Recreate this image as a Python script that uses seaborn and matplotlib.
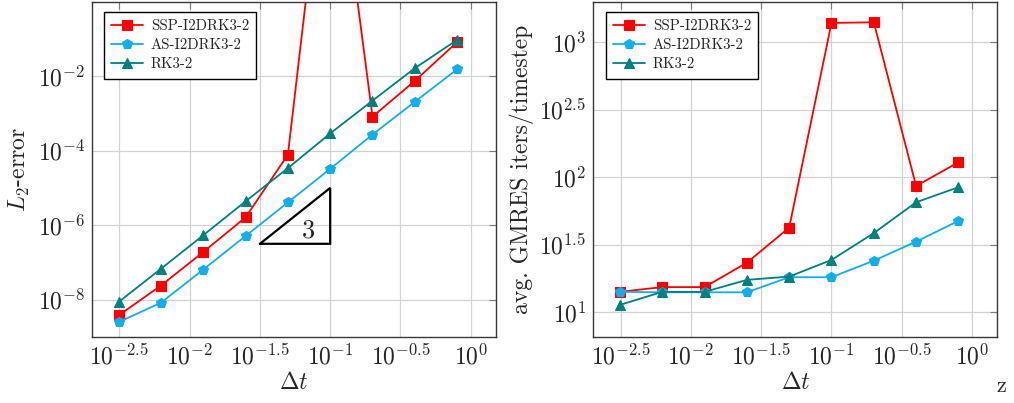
import numpy as np
import pandas as pd
import matplotlib
matplotlib.use("Agg")
import matplotlib.pyplot as plt
import seaborn as sns

# ---------------- data ----------------
dt = [0.003125, 0.00625, 0.0125, 0.025, 0.05, 0.1, 0.2, 0.4, 0.8]
series_names = ["SSP-I2DRK3-2", "AS-I2DRK3-2", "RK3-2"]

err_ssp = [10**-8.42, 10**-7.62, 10**-6.72, 10**-5.79, 10**-4.11, 10**5.63, 10**-3.09, 10**-2.13, 10**-1.09]
err_as = [10**-8.60, 10**-8.08, 10**-7.19, 10**-6.29, 10**-5.39, 10**-4.49, 10**-3.57, 10**-2.69, 10**-1.82]
err_rk = [10**-8.06, 10**-7.17, 10**-6.27, 10**-5.36, 10**-4.47, 10**-3.54, 10**-2.66, 10**-1.79, 10**-1.03]

gm_ssp = [14.1, 15.3, 15.3, 23.2, 42.2, 1384, 1400, 85.8, 128.5]
gm_as = [14.1, 14.0, 14.0, 14.0, 18.1, 18.1, 24.0, 33.2, 47.3]
gm_rk = [11.3, 14.1, 14.1, 17.3, 18.3, 24.3, 38.4, 65.0, 84.0]

xtick_vals = [10**-2.5, 10**-2, 10**-1.5, 10**-1, 10**-0.5, 10**0]
xtick_labels = [r"$10^{-2.5}$", r"$10^{-2}$", r"$10^{-1.5}$", r"$10^{-1}$", r"$10^{-0.5}$", r"$10^{0}$"]
ytick_vals_l = [1e-8, 1e-6, 1e-4, 1e-2]
ytick_labels_l = [r"$10^{-8}$", r"$10^{-6}$", r"$10^{-4}$", r"$10^{-2}$"]
ytick_vals_r = [10**1, 10**1.5, 10**2, 10**2.5, 10**3]
ytick_labels_r = [r"$10^{1}$", r"$10^{1.5}$", r"$10^{2}$", r"$10^{2.5}$", r"$10^{3}$"]

slope_tri_x = [10**-1.5, 10**-1, 10**-1, 10**-1.5]
slope_tri_y = [10**-6.5, 10**-5.0, 10**-6.5, 10**-6.5]
slope_label = "3"

# ---------------- style ----------------
sns.set_theme(style="white")
plt.rcParams["font.family"] = ["cmr10", "DejaVu Serif"]
plt.rcParams["mathtext.fontset"] = "cm"
plt.rcParams["axes.unicode_minus"] = False
plt.rcParams["axes.formatter.use_mathtext"] = True

colors = ["#ff0000", "#12aeeb", "#008080"]
markers = ["s", "p", "^"]
msizes = [7.5, 7.5, 7.5]

fig = plt.figure(figsize=(10.14, 4.03), dpi=100)
W, H = 1014, 403
bottom = 1 - 337 / H
height = 335.5 / H
ax1 = fig.add_axes([92 / W, bottom, 404 / W, height])
ax2 = fig.add_axes([593.3 / W, bottom, 404 / W, height])

def style_axes(ax):
    ax.set_xscale("log")
    ax.set_yscale("log")
    ax.grid(True, which="major", color="#d2d2d2", linewidth=0.9)
    ax.set_axisbelow(True)
    for s in ax.spines.values():
        s.set_color("#383838")
        s.set_linewidth(1.0)
    ax.tick_params(which="major", direction="in", length=5, width=0.8, color="#7a7a7a",
                   top=True, right=True, labelsize=17, pad=5)
    ax.xaxis.set_minor_locator(matplotlib.ticker.NullLocator())
    ax.yaxis.set_minor_locator(matplotlib.ticker.NullLocator())

def draw(ax, ys):
    for name, y, c, m, ms in zip(series_names, ys, colors, markers, msizes):
        df = pd.DataFrame({"dt": dt, "val": y})
        sns.lineplot(data=df, x="dt", y="val", ax=ax, color=c, marker=m, markersize=ms,
                     markeredgecolor=c, markerfacecolor=c, markeredgewidth=0.8,
                     linewidth=1.3, label=name, sort=True)

for ax in (ax1, ax2):
    style_axes(ax)

draw(ax1, [err_ssp, err_as, err_rk])
draw(ax2, [gm_ssp, gm_as, gm_rk])

for ax in (ax1, ax2):
    ax.set_xlim(10**-2.695, 10**0.18)
    ax.set_xticks(xtick_vals)
    ax.set_xticklabels(xtick_labels)
    ax.xaxis.set_minor_locator(matplotlib.ticker.NullLocator())
    ax.set_xlabel(r"$\Delta t$", fontsize=17, labelpad=2)

ax1.set_ylim(1e-9, 1e0)
ax1.set_yticks(ytick_vals_l)
ax1.set_yticklabels(ytick_labels_l)
ax1.yaxis.set_minor_locator(matplotlib.ticker.NullLocator())
ax1.set_ylabel(r"$L_2$-error", fontsize=17, labelpad=4)

ax2.set_ylim(10**0.815, 10**3.30)
ax2.set_yticks(ytick_vals_r)
ax2.set_yticklabels(ytick_labels_r)
ax2.yaxis.set_minor_locator(matplotlib.ticker.NullLocator())
ax2.set_ylabel("avg. GMRES iters/timestep", fontsize=17, labelpad=4)

# slope triangle
ax1.plot(slope_tri_x, slope_tri_y, color="black", linewidth=1.6, solid_joinstyle="miter")
ax1.text(10**-1.152, 10**-6.16, slope_label, fontsize=19, ha="center", va="center")

for ax, x0 in ((ax1, 0.0297), (ax2, 0.0314)):
    leg = ax.legend(loc="upper left", bbox_to_anchor=(x0, 0.968), borderaxespad=0,
                    fontsize=10.7, frameon=True, fancybox=False, framealpha=1,
                    edgecolor="black", handlelength=2.1, handletextpad=0.55,
                    labelspacing=0.35, borderpad=0.5)
    leg.get_frame().set_linewidth(1.0)

fig.text(1001 / W, 1 - 396 / H, "z", fontsize=16, ha="center", va="bottom")

fig.savefig("out.png", dpi=100)
